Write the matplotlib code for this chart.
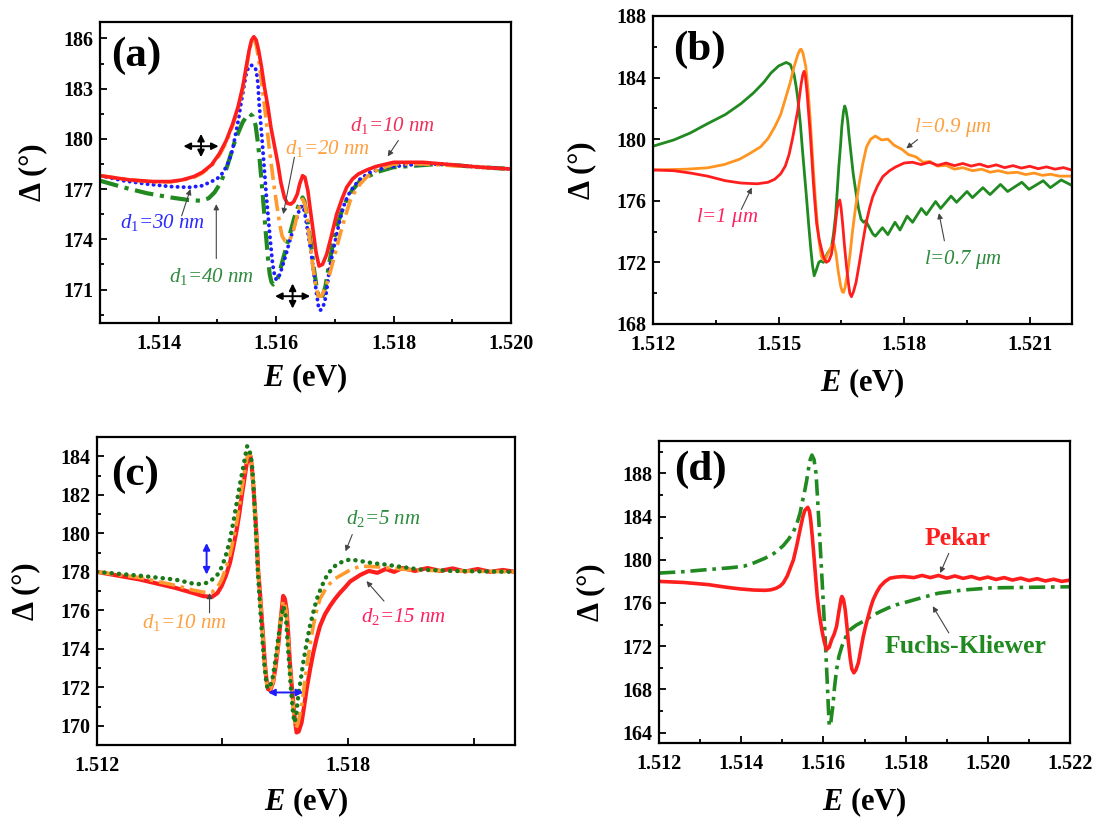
import matplotlib
matplotlib.use("Agg")
import matplotlib.pyplot as plt
from matplotlib.ticker import MultipleLocator, FixedLocator, FixedFormatter, FormatStrFormatter

plt.rcParams.update({
    "font.family": ["Liberation Serif", "DejaVu Serif"],
    "mathtext.fontset": "custom",
    "mathtext.rm": "Liberation Serif:weight=normal",
    "mathtext.it": "Liberation Serif:style=italic:weight=normal",
    "mathtext.bf": "Liberation Serif:style=italic:weight=bold",
})

# ---------------- (a) thickness d1 ----------------
a_red_E = [1.5130, 1.5135, 1.5139, 1.5142, 1.5144, 1.5146, 1.51474, 1.5149, 1.51503, 1.51515,
           1.51526, 1.51535, 1.51543, 1.51549, 1.51554, 1.51558, 1.51562, 1.51566, 1.51570, 1.51575,
           1.51580, 1.51586, 1.51591, 1.51597, 1.51603, 1.51608, 1.51614, 1.51619, 1.51625, 1.51630,
           1.51636, 1.51640, 1.51645, 1.51649, 1.51654, 1.51658, 1.51663, 1.51668, 1.51673, 1.51679,
           1.51686, 1.51694, 1.51703, 1.51712, 1.51720, 1.51730, 1.51740, 1.51755, 1.51770, 1.51800,
           1.51850, 1.51900, 1.51950, 1.52000]
a_red = [177.8, 177.55, 177.45, 177.45, 177.55, 177.75, 178.0, 178.45, 179.1, 179.9,
         180.9, 181.9, 183.1, 184.3, 185.3, 185.9, 186.1, 185.9, 185.3, 184.3,
         183.1, 181.9, 180.7, 179.6, 178.5, 177.4, 176.5, 176.15, 176.1, 176.25,
         176.7, 177.3, 177.8, 177.7, 176.9, 175.8, 174.5, 173.2, 172.4, 172.5,
         173.1, 174.2, 175.5, 176.4, 177.1, 177.6, 177.9, 178.15, 178.35, 178.6,
         178.6, 178.45, 178.3, 178.2]

a_org_E = [1.5130, 1.5135, 1.5139, 1.5142, 1.5144, 1.5146, 1.51474, 1.5149, 1.51503, 1.51515,
           1.51526, 1.51535, 1.51543, 1.51549, 1.51554, 1.51558, 1.51562, 1.51566, 1.51570, 1.51575,
           1.51580, 1.51588, 1.51597, 1.51606, 1.51610, 1.51615, 1.51620, 1.51625, 1.51630, 1.51635,
           1.51640, 1.51645, 1.51649, 1.51653, 1.51657, 1.51662, 1.51667, 1.51672, 1.51677, 1.51684,
           1.51691, 1.51700, 1.51709, 1.51718, 1.51726, 1.51735, 1.51743, 1.51755, 1.51770, 1.51800,
           1.51850, 1.51900, 1.51950, 1.52000]
a_org = [177.8, 177.55, 177.43, 177.43, 177.52, 177.7, 177.95, 178.4, 179.0, 179.8,
         180.8, 181.8, 183.0, 184.2, 185.2, 185.8, 185.95, 185.6, 184.8, 183.4,
         182.0, 179.5, 177.0, 174.9, 174.2, 173.9, 173.85, 174.1, 174.6, 175.3,
         176.0, 176.4, 176.1, 175.2, 174.0, 172.5, 171.3, 170.6, 170.6, 171.1,
         171.9, 173.1, 174.3, 175.4, 176.3, 176.9, 177.3, 177.75, 178.1, 178.5,
         178.5, 178.4, 178.3, 178.2]

a_blu_E = [1.5130, 1.5134, 1.5138, 1.5142, 1.51451, 1.51474, 1.51499, 1.51510, 1.51520, 1.51526,
           1.51531, 1.51536, 1.51540, 1.51545, 1.51549, 1.51553, 1.51557, 1.51562, 1.51566, 1.51569,
           1.51571, 1.51574, 1.51577, 1.51580, 1.51583, 1.51586, 1.51589, 1.51592, 1.51594, 1.51597,
           1.51600, 1.51604, 1.51609, 1.51616, 1.51623, 1.51630, 1.51637, 1.51641, 1.51645, 1.51648,
           1.51651, 1.51655, 1.51660, 1.51664, 1.51669, 1.51672, 1.51675, 1.51679, 1.51683, 1.51687,
           1.51691, 1.51697, 1.51703, 1.51709, 1.51714, 1.51722, 1.51731, 1.51743, 1.51760, 1.51787,
           1.51830, 1.51877, 1.51950, 1.52000]
a_blu = [177.8, 177.5, 177.3, 177.15, 177.1, 177.2, 177.6, 178.0, 178.7, 179.4,
         180.3, 181.2, 182.1, 183.1, 183.9, 184.3, 184.4, 184.35, 184.1, 183.3,
         182.1, 180.8, 179.5, 178.1, 176.7, 175.5, 174.3, 173.2, 172.5, 171.9,
         171.6, 171.7, 172.2, 173.0, 173.9, 174.7, 175.5, 175.9, 176.0, 175.7,
         175.1, 174.2, 173.1, 172.0, 170.7, 170.0, 169.75, 169.9, 170.3, 171.2,
         172.3, 173.3, 174.3, 175.2, 175.9, 176.6, 177.1, 177.6, 178.0, 178.3,
         178.45, 178.5, 178.3, 178.2]

a_grn_E = [1.5130, 1.5134, 1.5138, 1.5142, 1.5145, 1.51472, 1.51485, 1.51495, 1.51505, 1.51515,
           1.51523, 1.51530, 1.51537, 1.51543, 1.51549, 1.51555, 1.51560, 1.51565, 1.51568, 1.51571,
           1.51574, 1.51577, 1.51580, 1.51583, 1.51586, 1.51589, 1.51592, 1.51595, 1.51599, 1.51603,
           1.51610, 1.51617, 1.51624, 1.51631, 1.51638, 1.51645, 1.51648, 1.51651, 1.51655, 1.51660,
           1.51664, 1.51669, 1.51672, 1.51676, 1.51680, 1.51684, 1.51691, 1.51697, 1.51703, 1.51709,
           1.51714, 1.51722, 1.51729, 1.51743, 1.51770, 1.51799, 1.51877, 1.51950, 1.52000]
a_grn = [177.5, 177.1, 176.75, 176.5, 176.35, 176.3, 176.45, 176.8, 177.35, 178.2,
         179.1, 179.9, 180.5, 181.0, 181.3, 181.5, 181.35, 180.8, 180.0, 179.1,
         177.9, 176.7, 175.4, 174.1, 172.9, 171.9, 171.45, 171.3, 171.4, 171.7,
         172.6, 173.5, 174.4, 175.3, 176.0, 176.5, 176.3, 175.7, 174.7, 173.5,
         172.3, 171.1, 170.6, 170.4, 170.7, 171.2, 172.7, 173.8, 174.7, 175.4,
         175.9, 176.5, 176.9, 177.5, 178.0, 178.3, 178.5, 178.3, 178.2]

# ---------------- (b) length l ----------------
b_red_E = [1.5120, 1.5125, 1.51289, 1.5133, 1.51373, 1.5141, 1.51449, 1.51475, 1.51491, 1.51505,
           1.51516, 1.51525, 1.51533, 1.51540, 1.51546, 1.51550, 1.51554, 1.51558, 1.51561, 1.51564,
           1.51568, 1.51572, 1.51576, 1.51580, 1.51583, 1.51587, 1.51591, 1.51597, 1.51603, 1.51608,
           1.51614, 1.51620, 1.51626, 1.51630, 1.51634, 1.51637, 1.51640, 1.51643, 1.51646, 1.51649,
           1.51653, 1.51657, 1.51662, 1.51667, 1.51670, 1.51674, 1.51679, 1.51685, 1.51693, 1.51701,
           1.51709, 1.51717, 1.51725, 1.51736, 1.51749, 1.51765, 1.51780,
           1.5180, 1.5182, 1.5184, 1.5186, 1.5188, 1.5190, 1.5192, 1.5194, 1.5196, 1.5198, 1.5200,
           1.5202, 1.5204, 1.5206, 1.5208, 1.5210, 1.5212, 1.5214, 1.5216, 1.5218, 1.5220]
b_red = [178.0, 177.95, 177.8, 177.6, 177.3, 177.15, 177.1, 177.2, 177.4, 177.75,
         178.25, 179.0, 180.0, 181.0, 181.9, 182.8, 183.6, 184.2, 184.4, 184.1,
         183.0, 181.6, 180.2, 178.5, 177.2, 175.8, 174.5, 173.5, 172.8, 172.3,
         172.0, 172.1, 172.5, 173.2, 174.0, 174.8, 175.5, 175.9, 176.05, 175.6,
         174.5, 173.2, 171.8, 170.6, 170.0, 169.77, 170.1, 170.7, 171.96, 173.3,
         174.55, 175.5, 176.27, 176.95, 177.57, 177.95, 178.2,
         178.45, 178.5, 178.35, 178.5, 178.3, 178.45, 178.28, 178.42, 178.25, 178.38, 178.2,
         178.33, 178.15, 178.28, 178.12, 178.24, 178.08, 178.2, 178.05, 178.15, 178.0]

b_org_E = [1.5120, 1.5128, 1.51331, 1.5137, 1.51407, 1.5143, 1.51457, 1.51475, 1.51491, 1.51505,
           1.51516, 1.51527, 1.51537, 1.51546, 1.51551, 1.51554, 1.51558, 1.51562, 1.51565, 1.51570,
           1.51575, 1.51580, 1.51585, 1.51590, 1.51596, 1.51602, 1.51607, 1.51612, 1.51617, 1.51622,
           1.51627, 1.51632, 1.51637, 1.51642, 1.51648, 1.51652, 1.51655, 1.51659, 1.51662, 1.51666,
           1.51671, 1.51676, 1.51684, 1.51693, 1.51701, 1.51710, 1.51720, 1.51731,
           1.51746, 1.51761, 1.51776, 1.51794, 1.51810, 1.51828, 1.51845, 1.51862, 1.51879, 1.51900,
           1.51920, 1.51940, 1.51963, 1.51985, 1.52005, 1.52025, 1.52047, 1.52070, 1.52090, 1.52110,
           1.52130, 1.52150, 1.52170, 1.52200]
b_org = [178.0, 178.05, 178.14, 178.35, 178.7, 179.05, 179.5, 180.05, 180.8, 181.6,
         182.6, 183.6, 184.7, 185.5, 185.8, 185.84, 185.6, 185.1, 184.7, 183.3,
         181.5, 179.3, 177.2, 175.3, 173.5, 172.4, 172.15, 172.2, 172.5, 172.8,
         173.1, 173.2, 172.6, 171.5, 170.5, 170.1, 170.05, 170.4, 170.9, 171.5,
         172.6, 173.9, 175.6, 177.2, 178.4, 179.5, 180.0, 180.2,
         179.95, 180.0, 179.6, 179.35, 179.0, 178.85, 178.5, 178.55, 178.25, 178.3,
         178.05, 178.15, 177.95, 178.05, 177.85, 177.95, 177.8, 177.85, 177.7, 177.8,
         177.65, 177.72, 177.6, 177.6]

b_grn_E = [1.5120, 1.5125, 1.51289, 1.5133, 1.51373, 1.5141, 1.5144, 1.51465, 1.51482, 1.51500,
           1.51518, 1.51528, 1.51537, 1.51542, 1.51546, 1.51552, 1.51557, 1.51562, 1.51567, 1.51572,
           1.51577, 1.51581, 1.51585, 1.51590, 1.51596, 1.51601, 1.51607, 1.51612, 1.51617, 1.51622,
           1.51626, 1.51631, 1.51636, 1.51640, 1.51644, 1.51648, 1.51651, 1.51655, 1.51658, 1.51661,
           1.51665, 1.51668, 1.51672, 1.51678, 1.51685, 1.51691, 1.51697, 1.51703, 1.51708, 1.51714,
           1.51719, 1.51725, 1.51731, 1.51748, 1.51761, 1.51778, 1.51790, 1.51807, 1.51820, 1.51841,
           1.51853, 1.51875, 1.51887, 1.51912, 1.51925, 1.51950, 1.51963, 1.51988, 1.52005, 1.52030,
           1.52047, 1.52081, 1.52098, 1.52132, 1.52149, 1.52175, 1.52200]
b_grn = [179.54, 179.95, 180.4, 181.0, 181.6, 182.3, 183.0, 183.7, 184.3, 184.75,
         184.98, 184.85, 184.2, 183.4, 182.6, 181.0, 179.3, 177.7, 176.1, 174.4,
         172.85, 171.8, 171.13, 171.5, 172.0, 172.1, 172.0, 172.3, 172.6, 172.8,
         172.95, 173.8, 175.0, 176.6, 178.25, 179.6, 180.8, 181.8, 182.15, 181.9,
         181.2, 180.3, 179.3, 177.8, 176.5, 175.5, 174.8, 174.6, 174.7, 174.4,
         174.15, 173.85, 173.7, 174.25, 173.8, 174.6, 174.1, 175.0, 174.6, 175.5,
         175.1, 175.95, 175.5, 176.3, 175.9, 176.6, 176.2, 176.85, 176.4, 177.06,
         176.6, 177.2, 176.74, 177.3, 176.85, 177.35, 177.0]

# ---------------- (c) thickness d2 ----------------
c_red_E = [1.5120, 1.51303, 1.51387, 1.5143, 1.51454, 1.51475, 1.51488, 1.51498, 1.51508, 1.51518,
           1.51526, 1.51534, 1.51540, 1.51546, 1.51552, 1.51558, 1.51564, 1.51567, 1.51570, 1.51574,
           1.51578, 1.51582, 1.51585, 1.51590, 1.51594, 1.51598, 1.51601, 1.51605, 1.51609, 1.51614,
           1.51621, 1.51627, 1.51633, 1.51639, 1.51645, 1.51649, 1.51653, 1.51657, 1.51661, 1.51665,
           1.51669, 1.51673, 1.51677, 1.51682, 1.51689, 1.51695, 1.51701, 1.51709, 1.51717, 1.51725,
           1.51733, 1.51745, 1.51757, 1.51769, 1.51781, 1.51793, 1.51805,
           1.5183, 1.5185, 1.5187, 1.5189, 1.5191, 1.5193, 1.5196, 1.5199, 1.5202,
           1.5205, 1.5208, 1.5211, 1.5214, 1.5217, 1.5220]
c_red = [178.0, 177.6, 177.17, 176.9, 176.74, 176.7, 176.9, 177.27, 177.8, 178.48,
         179.3, 180.2, 181.0, 181.94, 182.8, 183.67, 184.1, 184.0, 183.5, 182.4,
         181.08, 179.6, 178.13, 176.8, 175.54, 174.3, 173.29, 172.4, 171.9, 171.85,
         172.25, 173.1, 174.15, 175.5, 176.75, 176.6, 176.06, 174.8, 173.3, 172.2,
         171.2, 170.3, 169.65, 169.7, 170.17, 171.0, 171.9, 172.9, 173.8, 174.55,
         175.19, 175.8, 176.23, 176.6, 176.92, 177.2, 177.5,
         177.85, 178.05, 177.95, 178.15, 178.0, 178.2, 178.05, 178.2, 178.05,
         178.18, 178.02, 178.15, 178.0, 178.1, 178.0]

c_org_E = [1.5120, 1.51303, 1.51387, 1.5143, 1.51454, 1.51475, 1.51488, 1.51498, 1.51508, 1.51518,
           1.51526, 1.51534, 1.51540, 1.51546, 1.51552, 1.51558, 1.51563, 1.51567, 1.51570, 1.51574,
           1.51578, 1.51582, 1.51585, 1.51590, 1.51594, 1.51598, 1.51601, 1.51605, 1.51608, 1.51614,
           1.51621, 1.51627, 1.51633, 1.51639, 1.51645, 1.51649, 1.51653, 1.51657, 1.51661, 1.51665,
           1.51669, 1.51672, 1.51675, 1.51680, 1.51689, 1.51695, 1.51701, 1.51709, 1.51717, 1.51725,
           1.51733, 1.51745, 1.51757, 1.51769, 1.51781, 1.51805, 1.5183, 1.5188, 1.5195, 1.5205,
           1.5220]
c_org = [178.0, 177.7, 177.3, 177.05, 176.95, 176.95, 177.2, 177.6, 178.2, 178.9,
         179.7, 180.6, 181.4, 182.3, 183.1, 183.9, 184.2, 184.05, 183.6, 182.4,
         181.0, 179.5, 178.0, 176.7, 175.4, 174.1, 173.1, 172.3, 171.95, 171.9,
         172.3, 173.2, 174.3, 175.5, 176.5, 176.4, 175.8, 174.5, 173.1, 172.0,
         171.0, 170.3, 169.85, 170.1, 171.0, 172.0, 173.0, 174.2, 175.2, 176.0,
         176.6, 177.05, 177.4, 177.65, 177.8, 178.1, 178.3, 178.25, 178.1, 178.05,
         178.0]

c_grn_E = [1.5120, 1.51303, 1.51387, 1.51438, 1.51466, 1.51486, 1.51495, 1.51502, 1.51510, 1.51518,
           1.51526, 1.51534, 1.51542, 1.51550, 1.51555, 1.51559, 1.51564, 1.51570, 1.51574, 1.51577,
           1.51581, 1.51584, 1.51588, 1.51592, 1.51596, 1.51600, 1.51604, 1.51607, 1.51612, 1.51619,
           1.51625, 1.51631, 1.51638, 1.51645, 1.51649, 1.51652, 1.51656, 1.51660, 1.51663, 1.51666,
           1.51669, 1.51672, 1.51676, 1.51681, 1.51687, 1.51693, 1.51701, 1.51709, 1.51717, 1.51725,
           1.51737, 1.51749, 1.51761, 1.51773, 1.51789, 1.51805, 1.51831, 1.51860, 1.51890, 1.51930,
           1.51974, 1.5205, 1.5220]
c_grn = [178.0, 177.8, 177.6, 177.35, 177.44, 177.79, 178.1, 178.48, 179.0, 179.69,
         180.6, 181.6, 182.6, 183.5, 184.1, 184.53, 184.4, 183.7, 182.5, 181.2,
         179.6, 178.2, 176.8, 175.5, 174.3, 173.2, 172.4, 172.0, 171.95, 172.4,
         173.2, 174.2, 175.3, 176.2, 176.0, 175.5, 174.2, 173.0, 172.1, 171.3,
         170.6, 170.17, 170.5, 171.55, 172.4, 173.29, 174.3, 175.19, 175.9, 176.57,
         177.25, 177.79, 178.15, 178.39, 178.55, 178.65, 178.56, 178.45, 178.38, 178.25,
         178.12, 178.05, 178.0]

# ---------------- (d) boundary conditions ----------------
d_red_E = [1.5120, 1.5126, 1.5132, 1.51365, 1.51398, 1.5143, 1.51458, 1.51472, 1.51484, 1.51494,
           1.51502, 1.51512, 1.51520, 1.51527, 1.51535, 1.51543, 1.51550, 1.51555, 1.51562, 1.51566,
           1.51569, 1.51573, 1.51577, 1.51581, 1.51585, 1.51590, 1.51596, 1.51602, 1.51608, 1.51614,
           1.51620, 1.51626, 1.51632, 1.51638, 1.51643, 1.51645, 1.51649, 1.51653, 1.51657, 1.51661,
           1.51665, 1.51669, 1.51674, 1.51679, 1.51685, 1.51691, 1.51697, 1.51703, 1.51709, 1.51715,
           1.51721, 1.51729, 1.51738, 1.51750, 1.51762, 1.51778, 1.51794,
           1.5182, 1.5184, 1.5186, 1.5188, 1.5190, 1.5192, 1.5194, 1.5196, 1.5198, 1.5200,
           1.5202, 1.5204, 1.5206, 1.5208, 1.5210, 1.5212, 1.5214, 1.5216, 1.5218, 1.5220]
d_red = [178.0, 177.9, 177.7, 177.45, 177.3, 177.2, 177.17, 177.22, 177.35, 177.55,
         177.84, 178.5, 179.3, 180.0, 181.3, 182.76, 184.0, 184.6, 184.86, 184.5,
         183.69, 182.1, 180.3, 178.4, 176.6, 175.0, 173.53, 172.4, 171.68, 171.9,
         172.6, 173.1, 173.84, 175.3, 176.4, 176.6, 176.3, 175.38, 173.9, 172.3,
         170.9, 169.9, 169.53, 169.8, 170.46, 171.7, 172.91, 173.9, 174.76, 175.6,
         176.3, 176.95, 177.53, 178.0, 178.3, 178.4, 178.45,
         178.35, 178.55, 178.35, 178.55, 178.3, 178.5, 178.28, 178.45, 178.22, 178.4,
         178.18, 178.35, 178.12, 178.3, 178.08, 178.25, 178.04, 178.2, 178.0, 178.12]

d_grn_E = [1.5120, 1.5126, 1.5132, 1.5137, 1.51406, 1.5143, 1.51458, 1.5148, 1.51502, 1.51515,
           1.51527, 1.51535, 1.51543, 1.51550, 1.51555, 1.51559, 1.51564, 1.51568, 1.51572, 1.51577,
           1.51582, 1.51586, 1.51590, 1.51594, 1.51598, 1.51601, 1.51604, 1.51607, 1.51609, 1.51612,
           1.51614, 1.51617, 1.51620, 1.51623, 1.51627, 1.51632, 1.51638, 1.51645, 1.51655, 1.51665,
           1.51680, 1.51697, 1.51717, 1.51738, 1.51758, 1.51778, 1.51807, 1.51840, 1.51879, 1.51940,
           1.52008, 1.52100, 1.52200]
d_grn = [178.77, 178.9, 179.1, 179.25, 179.4, 179.7, 180.15, 180.6, 181.3, 181.9,
         182.6, 183.3, 184.3, 185.6, 186.5, 187.3, 188.5, 189.3, 189.7, 189.3,
         188.0, 185.5, 182.76, 180.0, 177.2, 175.0, 172.9, 170.5, 168.9, 166.3,
         164.7, 164.6, 165.6, 166.45, 168.2, 169.84, 171.1, 172.0, 172.9, 173.53,
         173.95, 174.3, 174.8, 175.2, 175.55, 175.84, 176.14, 176.5, 176.9, 177.2,
         177.4, 177.45, 177.5]

RED = "#ff1e1e"
ORANGE = "#ff9a2e"
BLUE = "#1c1cff"
GREEN = "#208a20"
DASHDOT = (0, (4.5, 1.6, 1.0, 1.6))

fig = plt.figure(figsize=(11.03, 8.21), dpi=100)
ax_a = fig.add_axes([0.0907, 0.6066, 0.3726, 0.3670])
ax_b = fig.add_axes([0.5920, 0.6054, 0.3796, 0.3752])
ax_c = fig.add_axes([0.0879, 0.0926, 0.3794, 0.3748])
ax_d = fig.add_axes([0.5975, 0.0946, 0.3726, 0.3682])


def style(ax, xlim, ylim, ymaj, ymin, xpad, ypad, xmaj=None, xmin=None, xfixed=None):
    ax.set_xlim(*xlim)
    ax.set_ylim(*ylim)
    if xfixed is not None:
        ax.xaxis.set_major_locator(FixedLocator([v for v, _ in xfixed]))
        ax.xaxis.set_major_formatter(FixedFormatter([s for _, s in xfixed]))
    else:
        ax.xaxis.set_major_locator(MultipleLocator(xmaj))
        ax.xaxis.set_minor_locator(MultipleLocator(xmin))
        ax.xaxis.set_major_formatter(FormatStrFormatter("%.3f"))
    ax.yaxis.set_major_locator(MultipleLocator(ymaj))
    ax.yaxis.set_minor_locator(MultipleLocator(ymin))
    ax.yaxis.set_major_formatter(FormatStrFormatter("%d"))
    ax.tick_params(which="both", direction="in", top=False, right=False, width=1.3)
    ax.tick_params(which="major", length=5, labelsize=14.5)
    ax.tick_params(axis="x", which="major", pad=8)
    ax.tick_params(axis="y", which="major", pad=5)
    ax.tick_params(which="minor", length=3)
    for lbl in ax.get_xticklabels() + ax.get_yticklabels():
        lbl.set_fontweight("bold")
    for sp in ax.spines.values():
        sp.set_linewidth(1.6)
    ax.set_xlabel(r"$\mathbf{E}$ (eV)", fontsize=22, fontweight="bold", labelpad=xpad)
    ax.set_ylabel("Δ (°)", fontsize=22, fontweight="bold", labelpad=ypad)


def panel_tag(ax, txt, xy):
    ax.text(xy[0], xy[1], txt, fontsize=31, fontweight="bold", ha="center", va="center")


def note(ax, txt, xy, color, size=15, weight="normal", style_="italic"):
    ax.text(xy[0], xy[1], txt, color=color, fontsize=size, fontweight=weight,
            fontstyle=style_, ha="center", va="center")


def pointer(ax, start, tip, color="#444444"):
    ax.annotate("", xy=tip, xytext=start,
                arrowprops=dict(arrowstyle="-|>", color=color, lw=0.8,
                                mutation_scale=8, shrinkA=0, shrinkB=0))


def double(ax, p0, p1, color):
    ax.annotate("", xy=p1, xytext=p0,
                arrowprops=dict(arrowstyle="<|-|>", color=color, lw=1.4,
                                mutation_scale=10, shrinkA=0, shrinkB=0))


# ---- (a)
ax = ax_a
ax.plot(a_grn_E, a_grn, color=GREEN, lw=3.0, ls=DASHDOT)
ax.plot(a_blu_E, a_blu, color=BLUE, lw=2.8, ls=(0, (0.05, 1.5)), dash_capstyle="round")
ax.plot(a_org_E, a_org, color=ORANGE, lw=2.6, ls=DASHDOT)
ax.plot(a_red_E, a_red, color=RED, lw=2.6)
style(ax, (1.513, 1.520), (169, 187), 3, 1.5, xpad=5, ypad=11, xmaj=0.002, xmin=0.001)
panel_tag(ax, "(a)", (1.51362, 184.97))
note(ax, r"$d_1$=10 nm", (1.51799, 180.8), "#f0305a")
note(ax, r"$d_1$=20 nm", (1.51688, 179.4), "#ffa040")
note(ax, r"$d_1$=30 nm", (1.51406, 175.0), "#2a2aff")
note(ax, r"$d_1$=40 nm", (1.51490, 171.75), "#2e8b3e")
pointer(ax, (1.51808, 179.9), (1.51790, 178.95))
pointer(ax, (1.51631, 178.9), (1.51612, 175.5))
pointer(ax, (1.51439, 175.4), (1.51454, 177.0))
pointer(ax, (1.51498, 172.85), (1.51498, 176.1))
double(ax, (1.51442, 179.56), (1.51502, 179.56), "k")
double(ax, (1.51472, 178.9), (1.51472, 180.3), "k")
double(ax, (1.51598, 170.6), (1.51658, 170.6), "k")
double(ax, (1.51628, 169.86), (1.51628, 171.36), "k")

# ---- (b)
ax = ax_b
ax.plot(b_grn_E, b_grn, color=GREEN, lw=2.0)
ax.plot(b_org_E, b_org, color="#ff9420", lw=2.0)
ax.plot(b_red_E, b_red, color=RED, lw=2.0)
style(ax, (1.512, 1.522), (168, 188), 4, 2, xpad=8, ypad=14, xmaj=0.003, xmin=0.0015)
panel_tag(ax, "(b)", (1.51312, 185.8))
note(ax, r"$l$=1 μm", (1.51377, 174.9), "#ff2060")
note(ax, r"$l$=0.9 μm", (1.51917, 180.73), "#ffa040")
note(ax, r"$l$=0.7 μm", (1.51940, 172.2), "#2e8b3e")
pointer(ax, (1.51411, 175.44), (1.51436, 176.85))
pointer(ax, (1.51832, 179.97), (1.51805, 179.4))
pointer(ax, (1.51896, 173.4), (1.51883, 175.2))

# ---- (c)
ax = ax_c
ax.plot(c_red_E, c_red, color=RED, lw=3.0)
ax.plot(c_org_E, c_org, color=ORANGE, lw=2.6, ls=DASHDOT)
ax.plot(c_grn_E, c_grn, color="#1a7a1a", lw=3.2, ls=(0, (0.05, 1.6)), dash_capstyle="round")
style(ax, (1.512, 1.522), (169, 185), 2, 1, xpad=7, ypad=14,
      xfixed=[(1.512, "1.512"), (1.515, ""), (1.518, "1.518"), (1.521, "")])
panel_tag(ax, "(c)", (1.51290, 183.05))
note(ax, r"$d_2$=5 nm", (1.51884, 180.8), "#2e8b3e")
note(ax, r"$d_2$=15 nm", (1.51932, 175.7), "#ff2060")
note(ax, r"$d_1$=10 nm", (1.51410, 175.36), "#ffa040")
pointer(ax, (1.51810, 179.94), (1.51794, 179.07))
pointer(ax, (1.51886, 176.48), (1.51844, 177.52))
pointer(ax, (1.51469, 175.87), (1.51469, 176.9))
double(ax, (1.51462, 177.86), (1.51462, 179.5), "#1c1cff")
double(ax, (1.51609, 171.73), (1.51693, 171.73), "#1c1cff")

# ---- (d)
ax = ax_d
ax.plot(d_grn_E, d_grn, color=GREEN, lw=2.6, ls=DASHDOT)
ax.plot(d_red_E, d_red, color=RED, lw=2.6)
style(ax, (1.512, 1.522), (163, 191), 4, 2, xpad=8, ypad=12, xmaj=0.002, xmin=0.001)
panel_tag(ax, "(d)", (1.51300, 188.3))
note(ax, "Pekar", (1.51925, 182.0), RED, size=18.5, weight="bold", style_="normal")
note(ax, "Fuchs-Kliewer", (1.51946, 172.0), GREEN, size=18.5, weight="bold", style_="normal")
pointer(ax, (1.51905, 180.6), (1.51884, 178.77))
pointer(ax, (1.51905, 173.23), (1.51866, 175.7))

fig.savefig("out.png", dpi=100)
